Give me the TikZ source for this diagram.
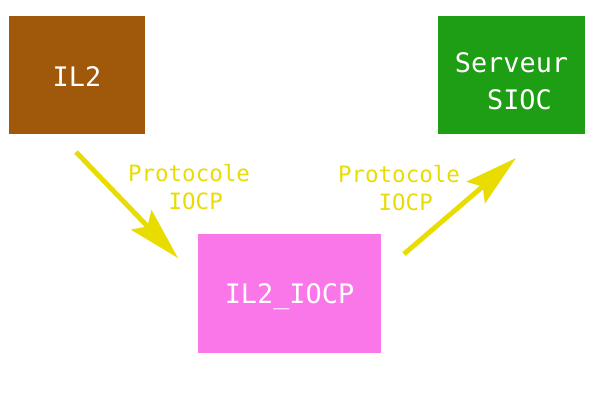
\documentclass[tikz,border=0pt]{standalone}
\usepackage{fontspec}
\setmonofont{DejaVu Sans Mono}
\usetikzlibrary{arrows.meta, positioning}
\definecolor{il2brown}{HTML}{A0580A}
\definecolor{siocgreen}{HTML}{1E9E14}
\definecolor{iocppink}{HTML}{F977E8}
\definecolor{protoyellow}{HTML}{E8DC00}

\begin{document}
\begin{tikzpicture}[x=0.02cm, y=-0.02cm,
  box/.style={inner sep=0pt, text=white, font=\ttfamily\fontsize{15.3}{21}\selectfont, align=left},
  proto/.style={text=protoyellow, font=\ttfamily\fontsize{12.8}{16}\selectfont, align=center, inner sep=0pt},
  flow/.style={draw=protoyellow, line width=2.8pt, -{Stealth[length=30pt, width=16pt, inset=5pt]}}]
\useasboundingbox (0,0) rectangle (600,400);
% boxes
\fill [il2brown] (9,16) rectangle (145,134);
\fill [siocgreen] (438,16) rectangle (585,134);
\fill [iocppink] (198,234) rectangle (381,353);
\node [box] (il2) at (77,77)  {IL2};
\node [box] (sioc) at (511.5,81) {Serveur\\\hspace*{1.2em}SIOC};
\node [box] (iocp) at (289.5,297) {IL2\_IOCP};
% arrow ends
\coordinate (s1) at (76,152);
\coordinate (e1) at (178,258);
\coordinate (s2) at (404,254);
\coordinate (e2) at (516,158);
\draw [flow] (s1) -- (e1);
\draw [flow] (s2) -- (e2);
% labels
\node [proto] (p1) at (189,187) {Protocole\\\hspace*{0.6em}IOCP};
\node [proto] (p2) at (399,188) {Protocole\\\hspace*{0.6em}IOCP};
\end{tikzpicture}
\end{document}
